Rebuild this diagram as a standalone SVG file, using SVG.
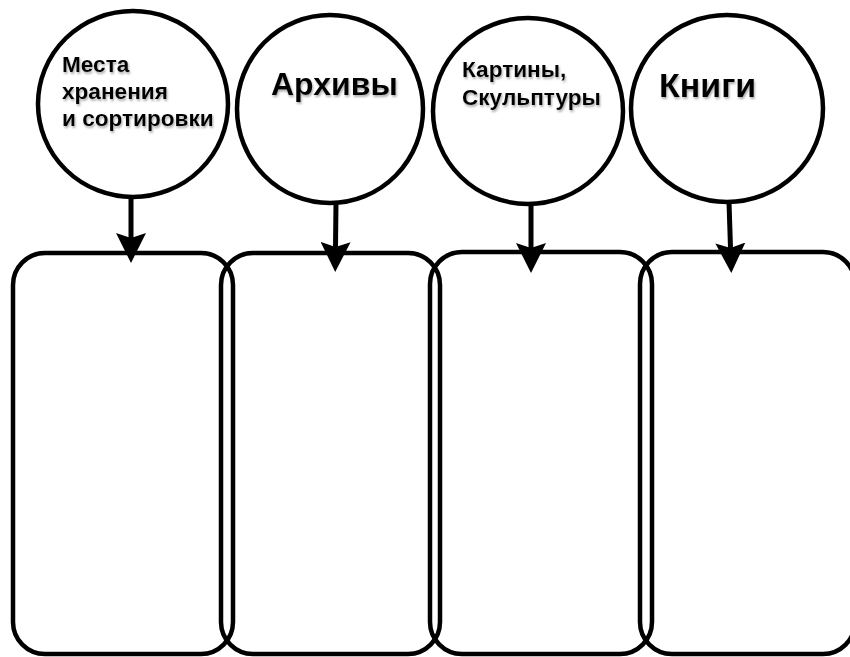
<svg xmlns="http://www.w3.org/2000/svg" width="850" height="657" viewBox="0 0 850 657">
<style>
.node{fill:#fff;stroke:#000;stroke-width:4.5}
.box{fill:none;stroke:#000;stroke-width:4.5}
.lbl{font-family:"Liberation Sans",Arial,sans-serif;font-weight:bold;fill:#000;filter:url(#sh)}
.s{font-size:22.6px}
.b{font-size:32px}
.conn{stroke:#000;stroke-width:5;fill:none;marker-end:url(#ah)}
</style>
<defs>
<filter id="sh" x="-10%" y="-20%" width="130%" height="160%">
<feDropShadow dx="1" dy="2" stdDeviation="1.2" flood-color="#777" flood-opacity="0.6"/>
</filter>
<marker id="ah" viewBox="0 -15 30 30" refX="5" refY="0" markerWidth="30" markerHeight="30" markerUnits="userSpaceOnUse" orient="auto">
<path d="M0,-15 L30,0 L0,15 L5,0 Z" fill="#000"/>
</marker>
</defs>
<rect width="850" height="657" fill="#fff"/>
<g id="box1"><rect class="box" x="13" y="253" width="220" height="401" rx="32" ry="32"/></g>
<g id="box2"><rect class="box" x="221" y="253" width="219" height="401" rx="32" ry="32"/></g>
<g id="box3"><rect class="box" x="430" y="252" width="222" height="402" rx="32" ry="32"/></g>
<g id="box4"><rect class="box" x="640" y="252" width="215" height="402" rx="32" ry="32"/></g>
<g id="node1">
<ellipse class="node" cx="133" cy="104" rx="95" ry="93"/>
<text class="lbl s" x="62" y="72">Места</text>
<text class="lbl s" x="62" y="99">хранения</text>
<text class="lbl s" x="62" y="126">и сортировки</text>
</g>
<g id="node2">
<ellipse class="node" cx="330" cy="109" rx="93" ry="94"/>
<text class="lbl b" x="271" y="95">Архивы</text>
</g>
<g id="node3">
<ellipse class="node" cx="528" cy="111" rx="95" ry="93"/>
<text class="lbl s" x="462" y="77">Картины,</text>
<text class="lbl s" x="462" y="105">Скульптуры</text>
</g>
<g id="node4">
<ellipse class="node" cx="727" cy="108.5" rx="96" ry="93.5"/>
<text class="lbl b" x="659" y="97" style="font-size:34px">Книги</text>
</g>
<g id="connectors">
<path class="conn" d="M131,197 L131,238"/>
<path class="conn" d="M336,203 L335.5,247"/>
<path class="conn" d="M531,204 L531,248"/>
<path class="conn" d="M729,202 L730.5,248"/>
</g>
</svg>
